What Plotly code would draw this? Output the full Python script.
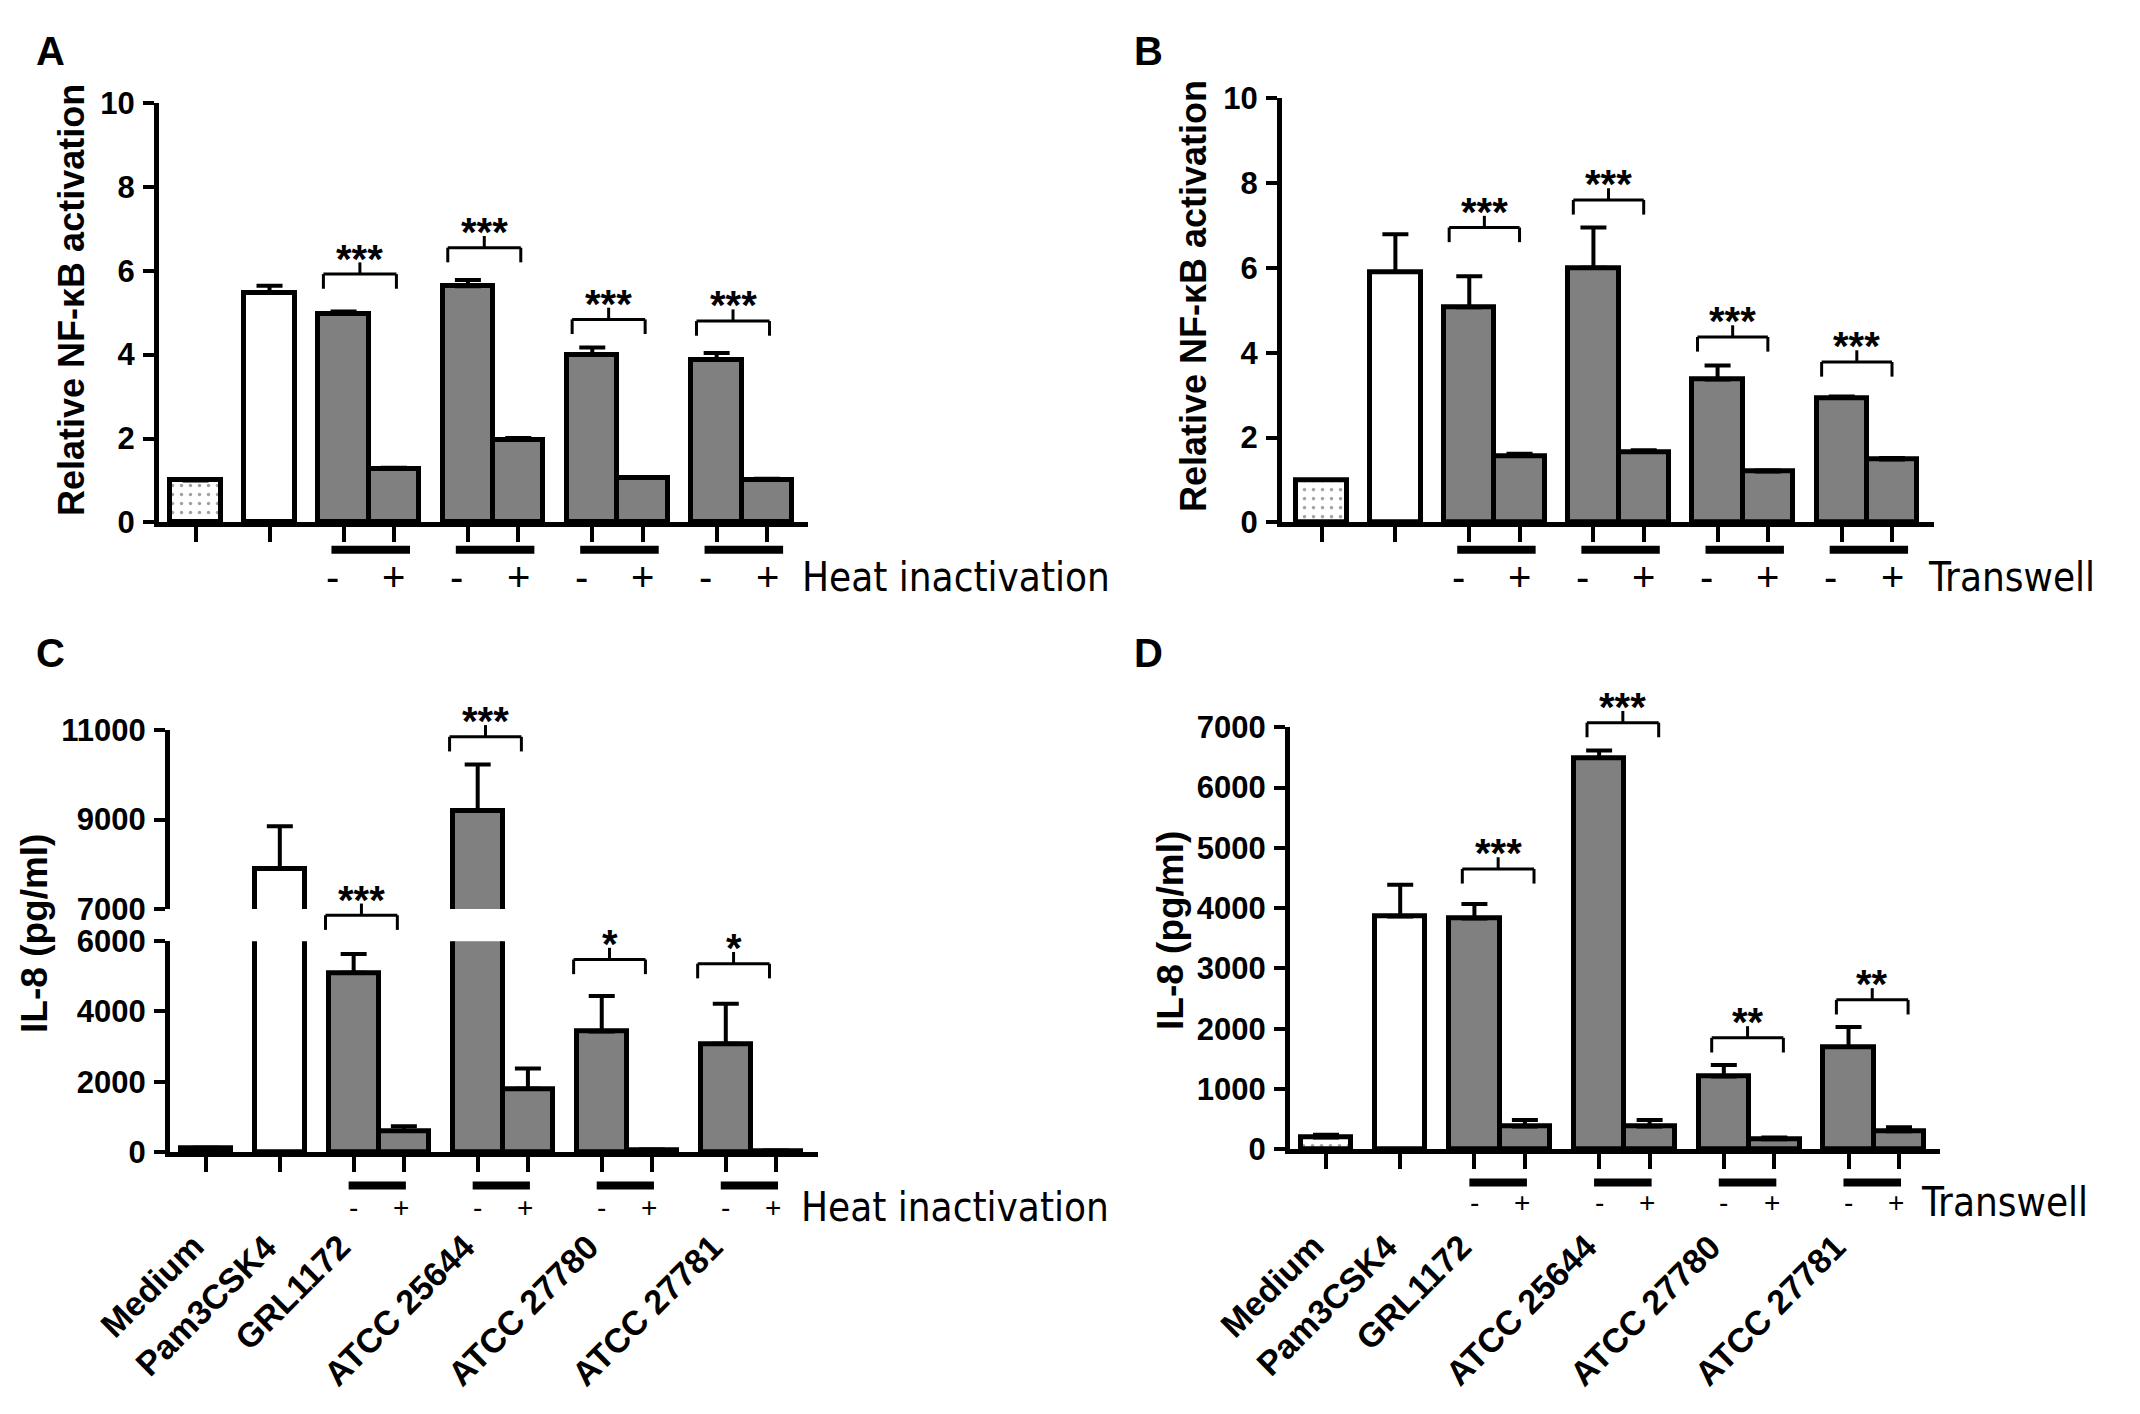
import plotly.graph_objects as go

W, H = 2140, 1414
FONT = "Liberation Sans, Arial, sans-serif"
NARROW = "Liberation Sans Narrow, DejaVu Sans Condensed, Arial Narrow, sans-serif"

# bar order in every panel: Medium, Pam3CSK4, then (-, +) for each strain
conditions = ["Medium", "Pam3CSK4", "GRL1172", "ATCC 25644", "ATCC 27780", "ATCC 27781"]
group_sizes = [1, 1, 2, 2, 2, 2]

# A: NF-kB activation, heat inactivation
nfkb_heat = [1.0, 5.47, 4.98, 1.27, 5.63, 1.97, 3.99, 1.06, 3.88, 1.02]
nfkb_heat_err = [0.0, 0.17, 0.05, 0.03, 0.15, 0.04, 0.18, 0.02, 0.16, 0.02]
# B: NF-kB activation, transwell
nfkb_tw = [1.0, 5.9, 5.07, 1.57, 6.0, 1.66, 3.37, 1.2, 2.93, 1.48]
nfkb_tw_err = [0.0, 0.89, 0.73, 0.05, 0.95, 0.04, 0.33, 0.02, 0.04, 0.04]
# C: IL-8, heat inactivation
il8_heat = [100, 7900, 5100, 600, 9200, 1800, 3430, 60, 3080, 30]
il8_heat_err = [20, 950, 540, 130, 1030, 580, 1010, 10, 1140, 10]
# D: IL-8, transwell
il8_tw = [200, 3860, 3830, 380, 6490, 380, 1210, 170, 1700, 300]
il8_tw_err = [45, 530, 240, 110, 125, 110, 190, 30, 330, 70]

# significance for each strain (- vs +) and the bracket height in data units
sig_A = ["***", "***", "***", "***"]
sig_B = ["***", "***", "***", "***"]
sig_C = ["***", "***", "*", "*"]
sig_D = ["***", "***", "**", "**"]
bracket_A = [5.92, 6.55, 4.84, 4.80]
bracket_B = [6.95, 7.60, 4.37, 3.78]
bracket_C = [6740, 10850, 5480, 5360]
bracket_D = [4650, 7075, 1850, 2480]


def bar_positions(gap=0.47):
    xs, x = [], 0.0
    for size in group_sizes:
        for _ in range(size):
            xs.append(x)
            x += 1
        x += gap
    return xs


pos = bar_positions()
colors = ["white", "white"] + ["#808080"] * 8
fill_pattern = [".", ""] + [""] * 8


def px_x(p):
    return p / W


def px_y(p):
    return 1 - p / H


def x_range(ax_px, first_px, last_px):
    unit = (last_px - first_px) / (pos[-1] - pos[0])
    return [pos[0] - (first_px - ax_px[0]) / unit, pos[-1] + (ax_px[1] - last_px) / unit]


def bar_trace(ys, err, xa, ya):
    return go.Bar(
        x=pos, y=ys, xaxis=xa, yaxis=ya, width=1.0,
        marker=dict(color=colors, line=dict(color="black", width=5),
                    pattern=dict(shape=fill_pattern, fgcolor="#555555", size=9, solidity=0.12)),
        error_y=dict(type="data", array=err, arrayminus=[0] * len(err), symmetric=False,
                     color="black", thickness=4, width=13),
        showlegend=False, hoverinfo="skip",
    )


def y_axis(rng, top_px, bot_px, anchor, tickvals):
    return dict(range=rng, domain=[px_y(bot_px), px_y(top_px)], anchor=anchor,
                showline=True, linewidth=5, linecolor="black", ticks="outside",
                ticklen=11, tickwidth=4, tickcolor="black", tickvals=tickvals,
                tickformat="d", showgrid=False, zeroline=False, ticklabelstandoff=2,
                tickfont=dict(family=FONT, size=31, color="black", weight="bold"))


def x_axis(ax_px, first_px, last_px, anchor, visible=True):
    return dict(range=x_range(ax_px, first_px, last_px), domain=[px_x(ax_px[0]), px_x(ax_px[1])],
                anchor=anchor, showline=visible, linewidth=5, linecolor="black",
                ticks="outside" if visible else "", ticklen=15, tickwidth=4, tickcolor="black",
                tickvals=pos, showticklabels=False, showgrid=False, zeroline=False,
                visible=visible)


fig = go.Figure()
fig.add_trace(bar_trace(nfkb_heat, nfkb_heat_err, "x", "y"))
fig.add_trace(bar_trace(nfkb_tw, nfkb_tw_err, "x2", "y2"))
fig.add_trace(bar_trace(il8_heat, il8_heat_err, "x3", "y3"))
fig.add_trace(bar_trace(il8_tw, il8_tw_err, "x4", "y4"))
fig.add_trace(bar_trace(il8_heat, il8_heat_err, "x5", "y5"))  # upper part of broken axis

# panel geometry in pixels
geo_A = dict(ax=(151, 800), bars=(187.5, 759), y=(80, 510))
geo_B = dict(ax=(1274, 1926), bars=(1313.5, 1884), y=(75, 510))
geo_C = dict(ax=(162, 810), bars=(198, 768), y=(939.5, 1155.6), y_up=(723, 906.5))
geo_D = dict(ax=(1282, 1932), bars=(1318, 1891), y=(720, 1153))

fig.update_layout(
    xaxis=x_axis(geo_A["ax"], *geo_A["bars"], "y"),
    yaxis=y_axis([0, 10], *geo_A["y"], "x", [0, 2, 4, 6, 8, 10]),
    xaxis2=x_axis(geo_B["ax"], *geo_B["bars"], "y2"),
    yaxis2=y_axis([0, 10], *geo_B["y"], "x2", [0, 2, 4, 6, 8, 10]),
    xaxis3=x_axis(geo_C["ax"], *geo_C["bars"], "y3"),
    yaxis3=y_axis([0, 6000], *geo_C["y"], "x3", [0, 2000, 4000, 6000]),
    xaxis4=x_axis(geo_D["ax"], *geo_D["bars"], "y4"),
    yaxis4=y_axis([0, 7000], *geo_D["y"], "x4", list(range(0, 7001, 1000))),
    xaxis5=x_axis(geo_C["ax"], *geo_C["bars"], "y5", visible=False),
    yaxis5=y_axis([7000, 11000], *geo_C["y_up"], "x5", [7000, 9000, 11000]),
)

shapes, annotations = [], []


def line(xref, yref, x0, y0, x1, y1, width):
    shapes.append(dict(type="line", xref=xref, yref=yref, x0=x0, y0=y0, x1=x1, y1=y1,
                       line=dict(color="black", width=width)))


def text(s, x, y, xref="paper", yref="paper", size=30, family=FONT, bold=False,
         xanchor="center", yanchor="middle", angle=0):
    annotations.append(dict(text=s, x=x, y=y, xref=xref, yref=yref, showarrow=False,
                            xanchor=xanchor, yanchor=yanchor, textangle=angle,
                            font=dict(family=family, size=size, color="black",
                                      weight="bold" if bold else "normal")))


def brackets(xa, scales, levels, labels, bl, br, star_size):
    # scales: (yaxis name, lo, hi, top_px, bot_px); highest lo <= level is used
    for i, (lev, lab) in enumerate(zip(levels, labels)):
        ya, lo, hi, top, bot = max((s for s in scales if s[1] <= lev), key=lambda s: s[1])
        span = bot - top
        f = (lev - lo) / (hi - lo)
        yref = ya + " domain"
        x0 = pos[2 + 2 * i] + bl
        x1 = pos[3 + 2 * i] + br
        xm = (x0 + x1) / 2
        line(xa, yref, x0, f - 15 / span, x0, f, 3)
        line(xa, yref, x0, f, x1, f, 3)
        line(xa, yref, x1, f, x1, f - 15 / span, 3)
        line(xa, yref, xm, f, xm, f + 12 / span, 3)
        text(lab, xm, f + 16 / span, xref=xa, yref=yref, size=star_size, bold=True,
             yanchor="middle")


def under_axis(xa, line_px, sign_px, ul, ur, sl, sr, sign_size, label, label_x):
    for i in range(4):
        left, right = pos[2 + 2 * i], pos[3 + 2 * i]
        line(xa, "paper", left + ul, px_y(line_px), right + ur, px_y(line_px), 8)
        text("-", left + sl, px_y(sign_px), xref=xa, size=sign_size)
        text("+", right + sr, px_y(sign_px), xref=xa, size=sign_size)
    text(label, px_x(label_x), px_y(sign_px), size=40, family=NARROW, xanchor="left")


def category_labels(xa, top_px):
    starts = [0, 1, 2, 4, 6, 8]
    for name, k in zip(conditions, starts):
        text(name, pos[k] + 0.14, px_y(top_px), xref=xa, size=34, bold=True,
             xanchor="right", yanchor="top", angle=-45)


brackets("x", [("y", 0, 10, *geo_A["y"])], bracket_A, sig_A, -0.40, 0.05, 40)
brackets("x2", [("y2", 0, 10, *geo_B["y"])], bracket_B, sig_B, -0.40, 0.0, 40)
brackets("x3", [("y3", 0, 6000, *geo_C["y"]), ("y5", 7000, 11000, *geo_C["y_up"])],
         bracket_C, sig_C, -0.56, -0.13, 40)
brackets("x4", [("y4", 0, 7000, *geo_D["y"])], bracket_D, sig_D, -0.24, 0.18, 40)

under_axis("x", 538, 566, -0.24, 0.32, -0.22, 0.0, 40, "Heat inactivation", 792)
under_axis("x2", 538, 566, -0.24, 0.32, -0.22, 0.0, 40, "Transwell", 1918)
under_axis("x3", 1190, 1212, -0.10, 0.04, 0.0, -0.05, 28, "Heat inactivation", 791)
under_axis("x4", 1187, 1207, -0.10, 0.04, 0.0, -0.05, 28, "Transwell", 1911)

category_labels("x3", 1230)
category_labels("x4", 1230)

# axis titles
text("Relative NF-κB activation", px_x(63), px_y(282), size=36, bold=True, angle=-90)
text("Relative NF-κB activation", px_x(1185), px_y(278), size=36, bold=True, angle=-90)
text("IL-8 (pg/ml)", px_x(27), px_y(932), size=37, bold=True, angle=-90)
text("IL-8 (pg/ml)", px_x(1162), px_y(929), size=37, bold=True, angle=-90)

# panel letters
for letter, (lx, ly) in zip("ABCD", [(42, 27), (1140, 27), (42, 644), (1140, 644)]):
    text(letter, px_x(lx), px_y(ly), size=40, bold=True)

fig.update_layout(
    width=W, height=H, margin=dict(l=0, r=0, t=0, b=0),
    paper_bgcolor="white", plot_bgcolor="white",
    shapes=shapes, annotations=annotations, bargap=0,
    font=dict(family=FONT, color="black"),
)

fig.write_html("out.html")
